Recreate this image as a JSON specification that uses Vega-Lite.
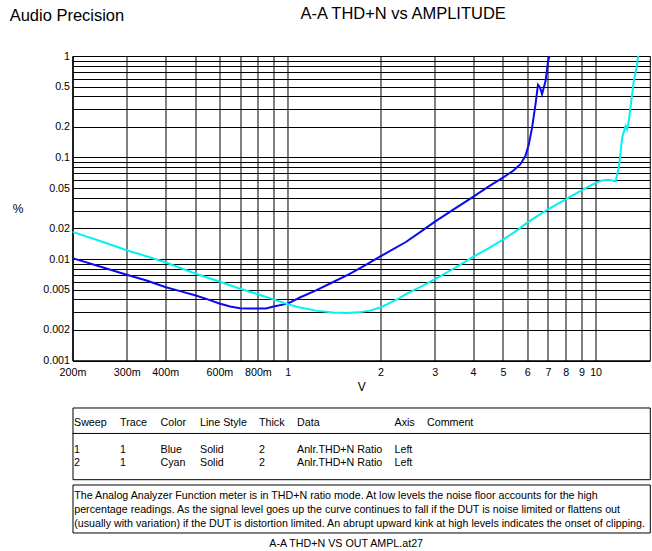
{
  "$schema": "https://vega.github.io/schema/vega-lite/v6.json",
  "background": "white",
  "padding": {"left": 9.5, "top": 5, "right": 2, "bottom": 2},
  "config": {
    "font": "Liberation Sans",
    "view": {"stroke": "black", "strokeWidth": 1},
    "axis": {"labelColor": "black", "titleColor": "black", "domainColor": "black"}
  },
  "title": {"text": "Audio Precision", "anchor": "start", "fontSize": 16.5, "fontWeight": "normal", "color": "black", "offset": -19, "dx": -2},
  "datasets": {
    "thd": [
      {"Sweep": "1", "V": 0.2, "THDN": 0.0102},
      {"Sweep": "1", "V": 0.25, "THDN": 0.0083},
      {"Sweep": "1", "V": 0.3, "THDN": 0.0070},
      {"Sweep": "1", "V": 0.35, "THDN": 0.0061},
      {"Sweep": "1", "V": 0.4, "THDN": 0.0053},
      {"Sweep": "1", "V": 0.45, "THDN": 0.0048},
      {"Sweep": "1", "V": 0.5, "THDN": 0.0044},
      {"Sweep": "1", "V": 0.55, "THDN": 0.0040},
      {"Sweep": "1", "V": 0.6, "THDN": 0.00365},
      {"Sweep": "1", "V": 0.65, "THDN": 0.0034},
      {"Sweep": "1", "V": 0.7, "THDN": 0.00328},
      {"Sweep": "1", "V": 0.75, "THDN": 0.00325},
      {"Sweep": "1", "V": 0.85, "THDN": 0.00325},
      {"Sweep": "1", "V": 0.9, "THDN": 0.0034},
      {"Sweep": "1", "V": 1.0, "THDN": 0.00363},
      {"Sweep": "1", "V": 1.1, "THDN": 0.0042},
      {"Sweep": "1", "V": 1.236, "THDN": 0.0049},
      {"Sweep": "1", "V": 1.4, "THDN": 0.0059},
      {"Sweep": "1", "V": 1.585, "THDN": 0.0071},
      {"Sweep": "1", "V": 1.8, "THDN": 0.0088},
      {"Sweep": "1", "V": 2.0, "THDN": 0.0106},
      {"Sweep": "1", "V": 2.42, "THDN": 0.0147},
      {"Sweep": "1", "V": 2.7, "THDN": 0.0185},
      {"Sweep": "1", "V": 3.0, "THDN": 0.0232},
      {"Sweep": "1", "V": 3.5, "THDN": 0.0315},
      {"Sweep": "1", "V": 4.0, "THDN": 0.041},
      {"Sweep": "1", "V": 4.5, "THDN": 0.052},
      {"Sweep": "1", "V": 5.0, "THDN": 0.0633},
      {"Sweep": "1", "V": 5.4, "THDN": 0.074},
      {"Sweep": "1", "V": 5.7, "THDN": 0.086},
      {"Sweep": "1", "V": 5.92, "THDN": 0.104},
      {"Sweep": "1", "V": 6.07, "THDN": 0.135},
      {"Sweep": "1", "V": 6.22, "THDN": 0.197},
      {"Sweep": "1", "V": 6.38, "THDN": 0.334},
      {"Sweep": "1", "V": 6.5, "THDN": 0.52},
      {"Sweep": "1", "V": 6.6, "THDN": 0.49},
      {"Sweep": "1", "V": 6.7, "THDN": 0.42},
      {"Sweep": "1", "V": 6.88, "THDN": 0.57},
      {"Sweep": "1", "V": 7.01, "THDN": 0.89},
      {"Sweep": "1", "V": 7.14, "THDN": 1.1},
      {"Sweep": "2", "V": 0.2, "THDN": 0.0185},
      {"Sweep": "2", "V": 0.25, "THDN": 0.0148},
      {"Sweep": "2", "V": 0.3, "THDN": 0.0122},
      {"Sweep": "2", "V": 0.35, "THDN": 0.0106},
      {"Sweep": "2", "V": 0.4, "THDN": 0.0093},
      {"Sweep": "2", "V": 0.5, "THDN": 0.0072},
      {"Sweep": "2", "V": 0.6, "THDN": 0.0060},
      {"Sweep": "2", "V": 0.7, "THDN": 0.0051},
      {"Sweep": "2", "V": 0.8, "THDN": 0.0045},
      {"Sweep": "2", "V": 0.9, "THDN": 0.0040},
      {"Sweep": "2", "V": 1.0, "THDN": 0.00358},
      {"Sweep": "2", "V": 1.1, "THDN": 0.00332},
      {"Sweep": "2", "V": 1.236, "THDN": 0.0031},
      {"Sweep": "2", "V": 1.4, "THDN": 0.00297},
      {"Sweep": "2", "V": 1.55, "THDN": 0.00294},
      {"Sweep": "2", "V": 1.7, "THDN": 0.00298},
      {"Sweep": "2", "V": 1.85, "THDN": 0.0031},
      {"Sweep": "2", "V": 2.0, "THDN": 0.00333},
      {"Sweep": "2", "V": 2.3, "THDN": 0.0041},
      {"Sweep": "2", "V": 2.42, "THDN": 0.0045},
      {"Sweep": "2", "V": 2.7, "THDN": 0.0053},
      {"Sweep": "2", "V": 3.0, "THDN": 0.0063},
      {"Sweep": "2", "V": 3.5, "THDN": 0.0082},
      {"Sweep": "2", "V": 4.0, "THDN": 0.0105},
      {"Sweep": "2", "V": 4.5, "THDN": 0.0128},
      {"Sweep": "2", "V": 5.0, "THDN": 0.0155},
      {"Sweep": "2", "V": 5.5, "THDN": 0.0187},
      {"Sweep": "2", "V": 6.0, "THDN": 0.0228},
      {"Sweep": "2", "V": 6.5, "THDN": 0.0268},
      {"Sweep": "2", "V": 7.0, "THDN": 0.0309},
      {"Sweep": "2", "V": 8.0, "THDN": 0.0387},
      {"Sweep": "2", "V": 9.0, "THDN": 0.0475},
      {"Sweep": "2", "V": 10.0, "THDN": 0.0563},
      {"Sweep": "2", "V": 10.5, "THDN": 0.0595},
      {"Sweep": "2", "V": 11.0, "THDN": 0.0602},
      {"Sweep": "2", "V": 11.3, "THDN": 0.0595},
      {"Sweep": "2", "V": 11.61, "THDN": 0.058},
      {"Sweep": "2", "V": 11.9, "THDN": 0.0792},
      {"Sweep": "2", "V": 12.2, "THDN": 0.157},
      {"Sweep": "2", "V": 12.51, "THDN": 0.204},
      {"Sweep": "2", "V": 12.66, "THDN": 0.189},
      {"Sweep": "2", "V": 12.82, "THDN": 0.229},
      {"Sweep": "2", "V": 13.08, "THDN": 0.374},
      {"Sweep": "2", "V": 13.31, "THDN": 0.567},
      {"Sweep": "2", "V": 13.58, "THDN": 0.767},
      {"Sweep": "2", "V": 13.99, "THDN": 1.4}
    ],
    "table": [
      {"row": 0, "col": 1, "text": "Sweep"},
      {"row": 0, "col": 2, "text": "Trace"},
      {"row": 0, "col": 3, "text": "Color"},
      {"row": 0, "col": 4, "text": "Line Style"},
      {"row": 0, "col": 5, "text": "Thick"},
      {"row": 0, "col": 6, "text": "Data"},
      {"row": 0, "col": 7, "text": "Axis"},
      {"row": 0, "col": 8, "text": "Comment"},
      {"row": 1, "col": 1, "text": "1"},
      {"row": 1, "col": 2, "text": "1"},
      {"row": 1, "col": 3, "text": "Blue"},
      {"row": 1, "col": 4, "text": "Solid"},
      {"row": 1, "col": 5, "text": "2"},
      {"row": 1, "col": 6, "text": "Anlr.THD+N Ratio"},
      {"row": 1, "col": 7, "text": "Left"},
      {"row": 2, "col": 1, "text": "2"},
      {"row": 2, "col": 2, "text": "1"},
      {"row": 2, "col": 3, "text": "Cyan"},
      {"row": 2, "col": 4, "text": "Solid"},
      {"row": 2, "col": 5, "text": "2"},
      {"row": 2, "col": 6, "text": "Anlr.THD+N Ratio"},
      {"row": 2, "col": 7, "text": "Left"}
    ],
    "notes": [
      {"line": 1, "text": "The Analog Analyzer Function meter is in THD+N ratio mode.  At low levels the noise floor accounts for the high"},
      {"line": 2, "text": "percentage readings.  As the signal level goes up the curve continues to fall if the DUT is noise limited or flattens out"},
      {"line": 3, "text": "(usually with variation) if the DUT is distortion limited.  An abrupt upward kink at high levels indicates the onset of clipping."}
    ]
  },
  "spacing": 12.5,
  "vconcat": [
    {
      "width": 577.3,
      "height": 304.5,
      "title": {"text": "A-A THD+N vs AMPLITUDE", "frame": "group", "anchor": "middle", "dx": 42, "offset": 28, "fontSize": 16.5, "fontWeight": "normal", "color": "black"},
      "data": {"name": "thd"},
      "mark": {"type": "line", "strokeWidth": 2, "clip": true},
      "encoding": {
        "x": {
          "field": "V", "type": "quantitative",
          "scale": {"type": "log", "domain": [0.2, 15], "nice": false},
          "axis": {
            "title": "V",
            "values": [0.2, 0.3, 0.4, 0.5, 0.6, 0.7, 0.8, 0.9, 1, 2, 3, 4, 5, 6, 7, 8, 9, 10],
            "labelExpr": "indexof([0.5, 0.7, 0.9], datum.value) >= 0 ? '' : (datum.value < 1 ? format(datum.value * 1000, 'd') + 'm' : format(datum.value, 'd'))",
            "grid": true, "gridColor": "black", "gridOpacity": 1, "gridWidth": 1,
            "ticks": false, "labelFontSize": 10.7, "labelPadding": 7, "labelFlush": false, "labelOverlap": false,
            "titleFontSize": 12, "titleFontWeight": "normal", "titlePadding": 4.5
          }
        },
        "y": {
          "field": "THDN", "type": "quantitative",
          "scale": {"type": "log", "domain": [0.001, 1], "nice": false},
          "axis": {
            "title": "%",
            "values": [0.001, 0.002, 0.003, 0.004, 0.005, 0.006, 0.007, 0.008, 0.009, 0.01, 0.02, 0.03, 0.04, 0.05, 0.06, 0.07, 0.08, 0.09, 0.1, 0.2, 0.3, 0.4, 0.5, 0.6, 0.7, 0.8, 0.9, 1],
            "labelExpr": "indexof([0.001, 0.002, 0.005, 0.01, 0.02, 0.05, 0.1, 0.2, 0.5, 1], datum.value) >= 0 ? '' + datum.value : ''",
            "grid": true, "gridColor": "black", "gridOpacity": 1, "gridWidth": 1,
            "ticks": false, "labelFontSize": 10.7, "labelPadding": 3, "labelFlush": false, "labelOverlap": false,
            "titleFontSize": 12, "titleFontWeight": "normal", "titleAngle": 0, "titleAlign": "center", "titleBaseline": "middle",
            "titleX": -55, "titleY": 152
          }
        },
        "color": {
          "field": "Sweep", "type": "nominal",
          "scale": {"domain": ["1", "2"], "range": ["#0a0af0", "#00f2f2"]},
          "legend": null
        }
      }
    },
    {
      "spacing": 3,
      "vconcat": [
        {
          "width": 577.3,
          "height": 71.7,
          "layer": [
            {
              "data": {"name": "table"},
              "mark": {"type": "text", "align": "left", "baseline": "middle", "fontSize": 10.7, "color": "black"},
              "encoding": {
                "x": {"field": "col", "type": "quantitative", "scale": {"domain": [1, 2, 3, 4, 5, 6, 7, 8], "range": [1.5, 47.5, 88, 127.5, 186.5, 224.5, 322, 354.5]}, "axis": null},
                "y": {"field": "row", "type": "quantitative", "scale": {"domain": [0, 1, 2], "range": [15.5, 43, 55.5]}, "axis": null},
                "text": {"field": "text"}
              }
            },
            {
              "data": {"values": [{"sep": 0.38}]},
              "mark": {"type": "rule", "color": "black", "strokeWidth": 1},
              "encoding": {
                "y": {"field": "sep", "type": "quantitative"}
              }
            }
          ]
        },
        {
          "width": 577.3,
          "height": 48,
          "title": {"text": "A-A THD+N VS OUT AMPL.at27", "orient": "bottom", "anchor": "middle", "frame": "group", "dx": -15, "offset": 7, "fontSize": 10.7, "fontWeight": "normal", "color": "black"},
          "data": {"name": "notes"},
          "mark": {"type": "text", "align": "left", "baseline": "middle", "fontSize": 10.7, "color": "black"},
          "encoding": {
            "x": {"datum": 0, "type": "quantitative", "scale": {"domain": [-0.003, 1]}, "axis": null},
            "y": {"field": "line", "type": "quantitative", "scale": {"domain": [1, 3], "range": [12, 40]}, "axis": null},
            "text": {"field": "text"}
          }
        }
      ]
    }
  ]
}
